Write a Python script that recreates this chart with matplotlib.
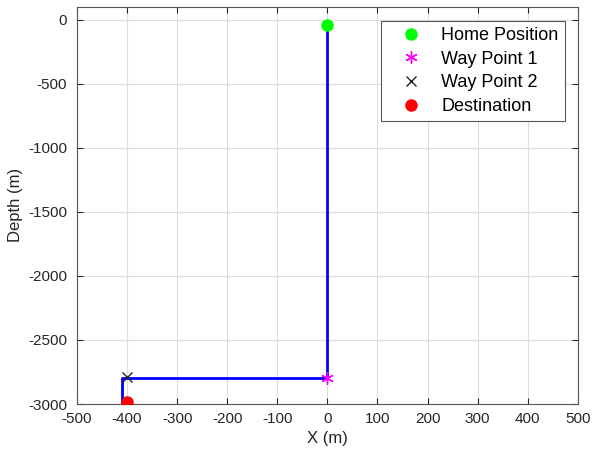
import matplotlib.pyplot as plt

plt.rcParams['font.family'] = ['Liberation Sans', 'DejaVu Sans']
plt.rcParams['axes.unicode_minus'] = False

# path of the vehicle
path_x = [0, 0, -410, -410]
path_y = [-40, -2800, -2800, -3000]

home = (0, -40)
way1 = (0, -2800)
way2 = (-400, -2785)
dest = (-400, -2985)

xticks = list(range(-500, 501, 100))
yticks = list(range(-3000, 1, 500))

fig = plt.figure(figsize=(5.92, 4.53), dpi=100)
ax = fig.add_axes([0.130, 0.108, 0.846, 0.877])

ax.plot(path_x, path_y, color='#0000ff', lw=2, zorder=2)
ax.plot(*home, 'o', color='#00ff00', ms=8, ls='none', label='Home Position', zorder=3)
ax.plot(*way1, marker=(6, 2, 0), color='#ff00ff', ms=9, ls='none', label='Way Point 1',
        zorder=3, markeredgewidth=1)
ax.plot(*way2, 'x', color='#222222', ms=7, ls='none', label='Way Point 2', zorder=3)
ax.plot(*dest, 'o', color='#ff0000', ms=8, ls='none', label='Destination', zorder=3)

ax.set_xlim(-500, 500)
ax.set_ylim(-3000, 100)
ax.set_xticks(xticks)
ax.set_yticks(yticks)
ax.tick_params(direction='in', top=True, right=True, labelsize=11, colors='#262626',
               length=4)
ax.tick_params(axis='y', pad=7)
ax.tick_params(axis='x', pad=6)
ax.grid(True, color='#dcdcdc', lw=0.8)
ax.set_axisbelow(True)
for s in ax.spines.values():
    s.set_color('#555555')

ax.set_xlabel('X (m)', fontsize=12, color='#262626', labelpad=3)
ax.set_ylabel('Depth (m)', fontsize=12, color='#262626', labelpad=4)

leg = ax.legend(loc='upper right', fontsize=13, fancybox=False, edgecolor='#555555',
                borderpad=0.35, labelspacing=0.37, handletextpad=0.4, handlelength=2.6,
                borderaxespad=0, bbox_to_anchor=(0.974, 0.965), framealpha=1)
leg.get_frame().set_linewidth(0.8)

fig.savefig('out.png', dpi=100)
